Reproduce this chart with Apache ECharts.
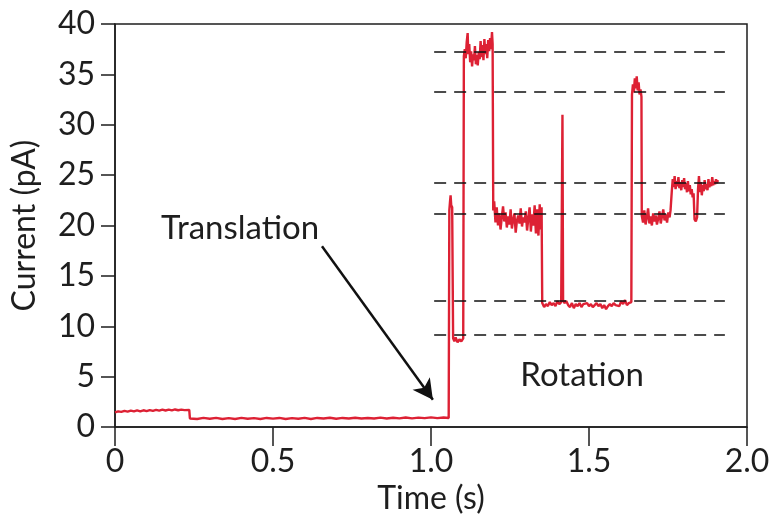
<!DOCTYPE html>
<html>
<head>
<meta charset="utf-8">
<script src="https://cdn.jsdelivr.net/npm/echarts@6/dist/echarts.min.js"></script>
<style>
  html, body { margin: 0; padding: 0; background: #fff; }
  #chart { width: 774px; height: 517px; }
</style>
</head>
<body>
<div id="chart"></div>
<script>
// current trace, [time (s), current (pA)]
const openLevel = [
  [0, 1.45], [0.01, 1.55], [0.02, 1.5], [0.03, 1.6], [0.04, 1.52], [0.05, 1.62], [0.06, 1.55],
  [0.07, 1.65], [0.08, 1.56], [0.09, 1.66], [0.1, 1.58], [0.11, 1.68], [0.12, 1.6], [0.13, 1.7],
  [0.14, 1.62], [0.15, 1.72], [0.16, 1.64], [0.17, 1.72], [0.18, 1.65], [0.19, 1.74], [0.2, 1.66],
  [0.21, 1.72], [0.22, 1.68], [0.235, 1.7]
];
const translation = [
  [0.237, 0.85], [0.26, 0.8], [0.28, 0.9], [0.30, 0.82], [0.32, 0.9], [0.34, 0.8], [0.36, 0.88],
  [0.38, 0.8], [0.40, 0.9], [0.42, 0.82], [0.44, 0.88], [0.46, 0.8], [0.48, 0.9], [0.50, 0.83],
  [0.52, 0.9], [0.54, 0.8], [0.56, 0.88], [0.58, 0.82], [0.60, 0.9], [0.62, 0.8], [0.64, 0.9],
  [0.66, 0.84], [0.68, 0.92], [0.70, 0.82], [0.72, 0.9], [0.74, 0.85], [0.76, 0.92], [0.78, 0.84],
  [0.80, 0.9], [0.82, 0.85], [0.84, 0.93], [0.86, 0.85], [0.88, 0.92], [0.90, 0.86], [0.92, 0.94],
  [0.94, 0.86], [0.96, 0.93], [0.98, 0.88], [1.00, 0.95], [1.02, 0.88], [1.04, 0.94], [1.056, 0.9]
];
const entry = [
  [1.058, 21.5], [1.060, 22.3], [1.062, 23.0], [1.064, 22.0], [1.067, 21.8], [1.070, 8.8],
  [1.074, 8.5], [1.078, 8.9], [1.084, 8.4], [1.090, 8.7], [1.096, 8.5], [1.102, 8.8]
];
const rotationA = [
  [1.104, 36.8], [1.107, 37.5], [1.110, 36.6], [1.113, 38.2], [1.116, 39.1], [1.118, 37.0],
  [1.121, 38.0], [1.124, 36.2], [1.127, 37.3], [1.130, 35.8], [1.133, 37.0], [1.136, 36.4],
  [1.139, 37.8], [1.142, 36.0], [1.145, 36.9], [1.148, 35.9], [1.151, 37.2], [1.154, 36.5],
  [1.157, 38.3], [1.160, 36.7], [1.163, 37.9], [1.166, 36.4], [1.169, 38.5], [1.172, 37.0],
  [1.175, 38.0], [1.178, 36.6], [1.181, 38.4], [1.184, 37.3], [1.187, 38.6], [1.190, 37.5],
  [1.193, 39.2], [1.195, 38.0]
];
const rotationB = [
  [1.197, 21.5], [1.200, 22.4], [1.204, 20.3], [1.208, 21.8], [1.212, 20.0], [1.216, 21.2],
  [1.220, 19.6], [1.224, 20.8], [1.228, 21.9], [1.232, 20.4], [1.236, 21.3], [1.240, 19.8],
  [1.244, 20.9], [1.248, 20.1], [1.252, 21.6], [1.256, 19.7], [1.260, 20.6], [1.264, 21.2],
  [1.268, 19.3], [1.272, 20.5], [1.276, 21.0], [1.280, 20.2], [1.284, 21.7], [1.288, 19.9],
  [1.292, 20.8], [1.296, 20.3], [1.300, 21.4], [1.304, 19.5], [1.308, 20.7], [1.312, 21.8],
  [1.316, 19.4], [1.320, 21.1], [1.324, 20.0], [1.328, 22.0], [1.332, 19.2], [1.336, 21.6],
  [1.340, 19.0], [1.344, 22.1], [1.347, 19.6], [1.350, 21.8]
];
const rotationC = [
  [1.352, 12.3], [1.358, 11.9], [1.364, 12.2], [1.370, 12.0], [1.376, 12.4], [1.382, 12.1],
  [1.388, 12.3], [1.394, 12.0], [1.400, 12.5], [1.406, 12.2], [1.412, 12.4], [1.414, 12.3],
  [1.416, 31.0], [1.418, 12.6], [1.422, 12.3], [1.428, 12.5], [1.434, 12.1], [1.440, 11.9],
  [1.446, 12.3], [1.452, 11.8], [1.458, 12.2], [1.464, 12.0], [1.470, 12.3], [1.476, 11.9],
  [1.482, 12.2], [1.488, 12.1], [1.494, 12.3], [1.500, 12.0], [1.506, 12.2], [1.512, 11.9],
  [1.518, 12.1], [1.524, 12.3], [1.530, 12.0], [1.536, 12.2], [1.542, 11.8], [1.548, 12.1],
  [1.554, 11.7], [1.560, 12.0], [1.566, 12.2], [1.572, 12.0], [1.578, 12.3], [1.584, 12.1],
  [1.590, 12.2], [1.596, 12.0], [1.602, 12.5], [1.608, 12.2], [1.614, 12.6], [1.620, 12.1],
  [1.626, 12.3], [1.632, 12.2], [1.634, 12.4]
];
const rotationD = [
  [1.636, 33.0], [1.639, 34.0], [1.642, 33.2], [1.645, 34.6], [1.648, 33.6], [1.651, 34.8],
  [1.654, 33.4], [1.657, 34.2], [1.660, 33.0], [1.663, 33.5], [1.666, 32.8]
];
const rotationE = [
  [1.667, 21.0], [1.671, 20.3], [1.675, 21.5], [1.679, 20.1], [1.683, 20.8], [1.687, 21.7],
  [1.691, 20.2], [1.695, 20.9], [1.699, 20.0], [1.703, 21.2], [1.707, 20.4], [1.711, 21.0],
  [1.715, 20.1], [1.719, 20.7], [1.723, 21.4], [1.727, 20.2], [1.731, 20.9], [1.735, 21.6],
  [1.739, 20.5], [1.743, 21.1], [1.747, 20.3], [1.751, 21.3], [1.755, 20.8], [1.758, 21.5]
];
const rotationF = [
  [1.762, 23.4], [1.765, 24.6], [1.768, 23.8], [1.771, 24.9], [1.774, 23.6], [1.777, 24.4],
  [1.780, 23.9], [1.783, 24.8], [1.786, 23.7], [1.789, 24.3], [1.792, 23.5], [1.795, 24.5],
  [1.798, 23.8], [1.801, 24.7], [1.804, 23.6], [1.807, 24.2], [1.810, 23.3], [1.813, 24.4],
  [1.816, 23.4], [1.819, 24.0], [1.822, 23.1], [1.825, 23.6], [1.828, 22.8], [1.831, 23.2],
  [1.834, 20.6], [1.838, 20.4], [1.842, 20.8], [1.845, 23.6], [1.848, 24.9], [1.851, 23.3],
  [1.854, 24.3], [1.857, 23.0], [1.860, 24.0], [1.863, 23.4], [1.866, 24.5], [1.869, 23.6],
  [1.872, 24.1], [1.875, 23.5], [1.878, 24.6], [1.881, 23.8], [1.884, 24.3], [1.887, 23.9],
  [1.890, 24.8], [1.893, 24.0], [1.896, 24.4], [1.899, 24.1], [1.902, 24.6], [1.905, 24.2],
  [1.908, 24.5]
];

// dashed reference levels (pA) and their time span
const levels = [37.25, 33.3, 24.2, 21.2, 12.5, 9.2];
const levelSpan = [1.01, 1.93];

// annotations: [time, current, text]
const notes = [[0.396, 19.75, 'Translation'], [1.478, 5.1, 'Rotation']];
const arrowFrom = [0.655, 17.95];
const arrowTo = [1.006, 2.7];

const trace = [].concat(openLevel, translation, entry, rotationA, rotationB,
  rotationC, rotationD, rotationE, rotationF);

const font = 'Lato, "Open Sans", sans-serif';
const ink = '#1e1e1e';

const myChart = echarts.init(document.getElementById('chart'));
const option = {
  animation: false,
  grid: {
    left: 115, right: 27, top: 24, bottom: 90,
    outerBoundsMode: 'none',
    show: true, borderColor: ink, borderWidth: 1.5
  },
  xAxis: {
    type: 'value', min: 0, max: 2, interval: 0.5,
    name: 'Time (s)', nameLocation: 'middle', nameGap: 55,
    nameTextStyle: { fontFamily: font, fontSize: 32, color: ink },
    axisLine: { lineStyle: { color: ink, width: 1.5 } },
    axisTick: { inside: false, length: 19, lineStyle: { color: ink, width: 1.5 } },
    axisLabel: {
      margin: 19, fontFamily: font, fontSize: 32, color: ink,
      formatter: (v) => (v === 0 ? '0' : v.toFixed(1))
    },
    splitLine: { show: false }
  },
  yAxis: {
    type: 'value', min: 0, max: 40, interval: 5,
    name: 'Current (pA)', nameLocation: 'middle', nameGap: 74,
    nameTextStyle: { fontFamily: font, fontSize: 32, color: ink },
    axisLine: { lineStyle: { color: ink, width: 1.5 } },
    axisTick: { inside: false, length: 14, lineStyle: { color: ink, width: 1.5 } },
    axisLabel: { margin: 20, fontFamily: font, fontSize: 32, color: ink },
    splitLine: { show: false }
  },
  series: [
    {
      name: 'levels',
      type: 'line',
      data: [],
      silent: true,
      markLine: {
        silent: true,
        symbol: ['none', 'none'],
        label: { show: false },
        lineStyle: { color: '#111', width: 1.6, type: [12, 8] },
        data: levels.map((v) => [{ coord: [levelSpan[0], v] }, { coord: [levelSpan[1], v] }])
      }
    },
    {
      name: 'current',
      type: 'line',
      data: trace,
      showSymbol: false,
      lineStyle: { color: '#dd2134', width: 2.4 },
      z: 3
    },
    {
      name: 'notes',
      type: 'scatter',
      data: notes,
      symbolSize: 0,
      silent: true,
      itemStyle: { opacity: 1 },
      label: {
        show: true, position: 'inside', opacity: 1,
        formatter: (p) => p.data[2],
        fontFamily: font, fontSize: 33, color: ink
      },
      markLine: {
        silent: true,
        symbol: ['none', 'arrow'],
        symbolSize: [16, 20],
        label: { show: false },
        lineStyle: { color: '#111', width: 2.5, type: 'solid', opacity: 1 },
        data: [[{ coord: arrowFrom }, { coord: arrowTo }]]
      }
    }
  ]
};
myChart.setOption(option);
</script>
</body>
</html>
